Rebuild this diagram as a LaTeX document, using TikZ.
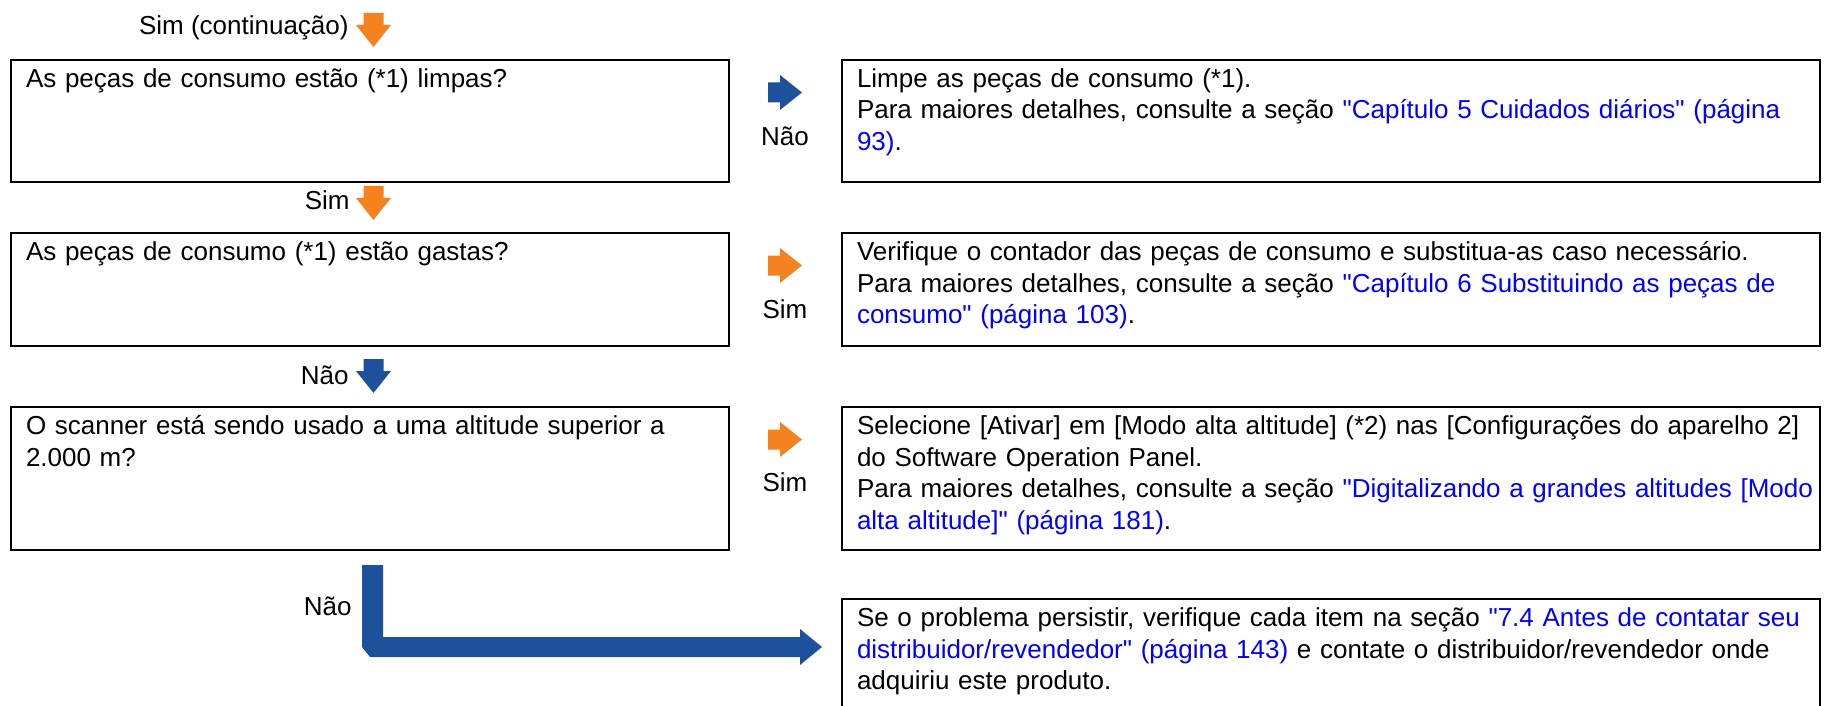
\documentclass[tikz,border=0pt]{standalone}
\usepackage{fontspec}
\setmainfont{Liberation Sans}[Ligatures=TeXOff]
\usetikzlibrary{positioning}
\definecolor{flowOrange}{RGB}{246,130,31}
\definecolor{flowBlue}{RGB}{29,81,155}
\definecolor{linkBlue}{RGB}{0,0,255}

\begin{document}
\begin{tikzpicture}[
  x=0.5pt, y=-0.5pt,
  font=\fontsize{13}{15.75}\selectfont,
  qbox/.style={draw, line width=1.4pt, anchor=north west, align=left, outer sep=0pt,
    inner xsep=7.5pt, inner ysep=4.75pt, text height=9pt, text width=344pt},
  abox/.style={qbox, text width=474pt},
  lbl/.style={anchor=base east, inner sep=0pt},
  rlbl/.style={anchor=base, inner sep=0pt}
]
\useasboundingbox (0,0) rectangle (1827,706);
\clip (0,0) rectangle (1827,706);

% questions
\node[qbox, text depth=42.5pt] (q1) at (11,60) {As peças de consumo estão (*1) limpas?};
\node[qbox, text depth=38pt] (q2) at (11,233) {As peças de consumo (*1) estão gastas?};
\node[qbox, text depth=53pt] (q3) at (11,407) {O scanner está sendo usado a uma altitude superior a\\ 2.000 m?};

% answers
\node[abox, text depth=42.5pt] (a1) at (842,60) {Limpe as peças de consumo (*1).\\
  \mbox{Para maiores detalhes, consulte a seção \textcolor{linkBlue}{"Capítulo 5 Cuidados diários" (página}}\\
  \textcolor{linkBlue}{93)}.};
\node[abox, text depth=38pt] (a2) at (842,233) {\mbox{Verifique o contador das peças de consumo e substitua-as caso necessário.}\\
  \mbox{Para maiores detalhes, consulte a seção \textcolor{linkBlue}{"Capítulo 6 Substituindo as peças de}}\\
  \textcolor{linkBlue}{consumo" (página 103)}.};
\node[abox, text depth=53pt] (a3) at (842,407) {\mbox{Selecione [Ativar] em [Modo alta altitude] (*2) nas [Configurações do aparelho 2]}\\
  do Software Operation Panel.\\
  \mbox{Para maiores detalhes, consulte a seção \textcolor{linkBlue}{"Digitalizando a grandes altitudes [Modo}}\\
  \textcolor{linkBlue}{alta altitude]" (página 181)}.};
\node[abox, text depth=50pt] (a4) at (842,599) {\mbox{Se o problema persistir, verifique cada item na seção \textcolor{linkBlue}{"7.4 Antes de contatar seu}}\\
  \mbox{\textcolor{linkBlue}{distribuidor/revendedor" (página 143)} e contate o distribuidor/revendedor onde}\\
  adquiriu este produto.};

% down arrows
\node[lbl] (simc) at (349,35) {Sim (continuação)};
\fill[flowOrange, shift={(356,13)}] (7.5,0) -- (27.5,0) -- (27.5,12) -- (35,12) -- (17.5,34) -- (0,12) -- (7.5,12) -- cycle;
\node[lbl] (sim1) at (350,210) {Sim};
\fill[flowOrange, shift={(356,186)}] (7.5,0) -- (27.5,0) -- (27.5,12) -- (35,12) -- (17.5,34) -- (0,12) -- (7.5,12) -- cycle;
\node[lbl] (nao1) at (349,384) {Não};
\fill[flowBlue, shift={(356,359)}] (7.5,0) -- (27.5,0) -- (27.5,12) -- (35,12) -- (17.5,34) -- (0,12) -- (7.5,12) -- cycle;

% right arrows
\fill[flowBlue, shift={(768,75)}] (0,7.5) -- (12,7.5) -- (12,0) -- (34,17.5) -- (12,35) -- (12,27.5) -- (0,27.5) -- cycle;
\node[rlbl] (naor1) at (785,146) {Não};
\fill[flowOrange, shift={(768,248)}] (0,7.5) -- (12,7.5) -- (12,0) -- (34,17.5) -- (12,35) -- (12,27.5) -- (0,27.5) -- cycle;
\node[rlbl] (simr2) at (785,318) {Sim};
\fill[flowOrange, shift={(768,422)}] (0,7.5) -- (12,7.5) -- (12,0) -- (34,17.5) -- (12,35) -- (12,27.5) -- (0,27.5) -- cycle;
\node[rlbl] (simr3) at (785,491) {Sim};

% last step
\node[lbl] (nao2) at (352,615) {Não};
\fill[flowBlue] (362,565) -- (383,565) -- (383,637) -- (800,637) -- (800,629) -- (822,647) -- (800,665) -- (800,657) -- (370,657) -- (362,647) -- cycle;
\end{tikzpicture}
\end{document}
